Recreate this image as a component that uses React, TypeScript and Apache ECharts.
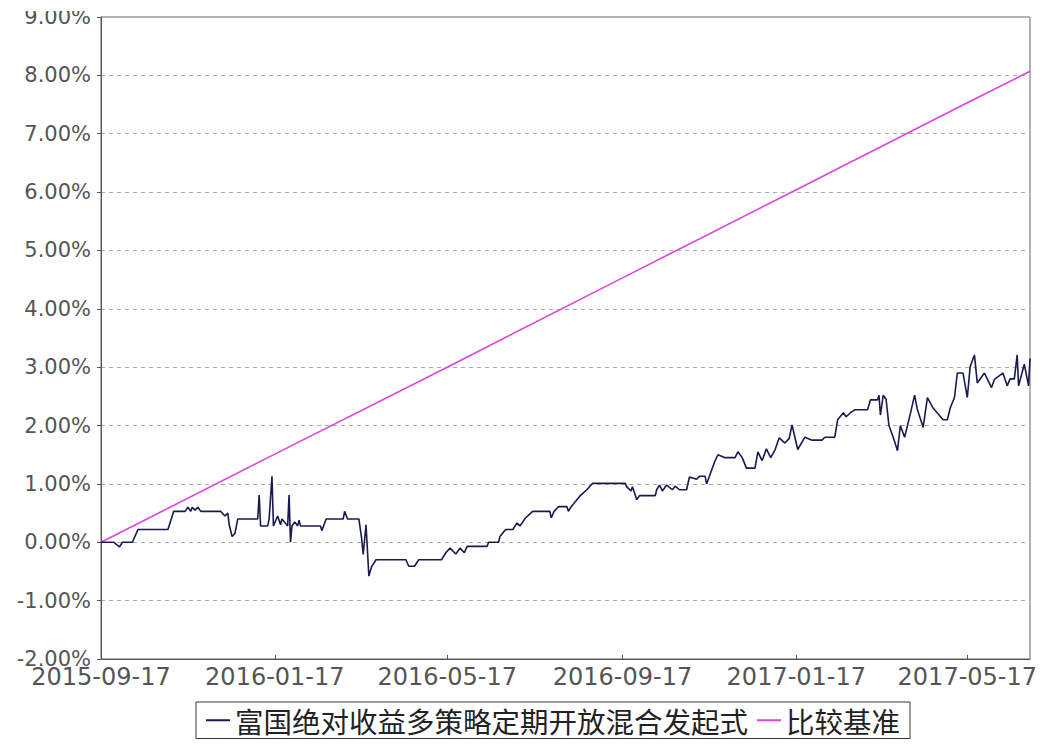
import React, { useEffect, useRef } from "react";
import * as echarts from "echarts";

const fundName = "富国绝对收益多策略定期开放混合发起式";
const benchName = "比较基准";

const xMin = "2015-09-17";
const xMax = "2017-06-30";
const xTickDates = ["2015-09-17", "2016-01-17", "2016-05-17", "2016-09-17", "2017-01-17", "2017-05-17"];

const yMin = -2;
const yMax = 9;
const yInterval = 1;

const fundDates = [
  "2015-09-17", "2015-09-26", "2015-09-30", "2015-10-02", "2015-10-09", "2015-10-13", "2015-11-03", "2015-11-07",
  "2015-11-15", "2015-11-17", "2015-11-19", "2015-11-20", "2015-11-22", "2015-11-24", "2015-11-26", "2015-12-10",
  "2015-12-13", "2015-12-15", "2015-12-16", "2015-12-18", "2015-12-20", "2015-12-22", "2016-01-05", "2016-01-06",
  "2016-01-07", "2016-01-12", "2016-01-13", "2016-01-15", "2016-01-16", "2016-01-19", "2016-01-21", "2016-01-22",
  "2016-01-26", "2016-01-27", "2016-01-28", "2016-01-29", "2016-01-31", "2016-02-02", "2016-02-03", "2016-02-04",
  "2016-02-18", "2016-02-19", "2016-02-22", "2016-03-05", "2016-03-06", "2016-03-08", "2016-03-16", "2016-03-18",
  "2016-03-19", "2016-03-21", "2016-03-23", "2016-03-25", "2016-03-26", "2016-03-28", "2016-04-18", "2016-04-20",
  "2016-04-24", "2016-04-27", "2016-05-13", "2016-05-16", "2016-05-19", "2016-05-23", "2016-05-26", "2016-05-29",
  "2016-05-31", "2016-06-14", "2016-06-15", "2016-06-22", "2016-06-23", "2016-06-27", "2016-07-02", "2016-07-05",
  "2016-07-07", "2016-07-09", "2016-07-11", "2016-07-16", "2016-07-28", "2016-07-29", "2016-07-31", "2016-08-03",
  "2016-08-09", "2016-08-10", "2016-08-12", "2016-08-15", "2016-08-18", "2016-08-23", "2016-08-27", "2016-09-19",
  "2016-09-20", "2016-09-23", "2016-09-24", "2016-09-27", "2016-09-29", "2016-10-10", "2016-10-11", "2016-10-13",
  "2016-10-15", "2016-10-18", "2016-10-22", "2016-10-24", "2016-10-27", "2016-11-01", "2016-11-03", "2016-11-08",
  "2016-11-10", "2016-11-14", "2016-11-15", "2016-11-17", "2016-11-21", "2016-11-23", "2016-11-28", "2016-12-05",
  "2016-12-07", "2016-12-10", "2016-12-13", "2016-12-19", "2016-12-21", "2016-12-24", "2016-12-27", "2016-12-30",
  "2017-01-02", "2017-01-05", "2017-01-09", "2017-01-12", "2017-01-14", "2017-01-18", "2017-01-23", "2017-01-28",
  "2017-02-04", "2017-02-06", "2017-02-13", "2017-02-15", "2017-02-19", "2017-02-21", "2017-02-24", "2017-02-27",
  "2017-03-08", "2017-03-10", "2017-03-15", "2017-03-16", "2017-03-17", "2017-03-19", "2017-03-21", "2017-03-23",
  "2017-03-26", "2017-03-29", "2017-03-31", "2017-04-03", "2017-04-07", "2017-04-10", "2017-04-12", "2017-04-16",
  "2017-04-19", "2017-04-23", "2017-04-30", "2017-05-03", "2017-05-05", "2017-05-08", "2017-05-10", "2017-05-14",
  "2017-05-17", "2017-05-19", "2017-05-22", "2017-05-24", "2017-05-29", "2017-06-03", "2017-06-05", "2017-06-11",
  "2017-06-14", "2017-06-16", "2017-06-19", "2017-06-21", "2017-06-22", "2017-06-26", "2017-06-29", "2017-06-30",
];

const fundValues = [
  0.0, 0.0, -0.08, 0.0, 0.0, 0.22, 0.22, 0.53,
  0.53, 0.6, 0.53, 0.6, 0.55, 0.6, 0.53, 0.53,
  0.45, 0.5, 0.3, 0.1, 0.15, 0.4, 0.4, 0.81,
  0.28, 0.28, 0.4, 1.13, 0.28, 0.45, 0.3, 0.4,
  0.28, 0.81, 0.0, 0.28, 0.35, 0.28, 0.38, 0.28,
  0.28, 0.2, 0.4, 0.4, 0.53, 0.4, 0.4, 0.05,
  -0.21, 0.3, -0.58, -0.41, -0.38, -0.3, -0.3, -0.41,
  -0.41, -0.3, -0.3, -0.18, -0.1, -0.2, -0.1, -0.18,
  -0.07, -0.07, 0.0, 0.0, 0.1, 0.22, 0.22, 0.33,
  0.28, 0.35, 0.42, 0.53, 0.53, 0.42, 0.53, 0.61,
  0.61, 0.53, 0.61, 0.7, 0.79, 0.9, 1.01, 1.01,
  0.95, 0.88, 0.95, 0.73, 0.8, 0.8, 0.9, 0.98,
  0.88, 0.98, 0.9, 0.96, 0.9, 0.9, 1.12, 1.08,
  1.13, 1.13, 1.0, 1.13, 1.4, 1.5, 1.45, 1.45,
  1.55, 1.45, 1.27, 1.27, 1.55, 1.4, 1.6, 1.45,
  1.58, 1.79, 1.7, 1.78, 2.01, 1.59, 1.8, 1.75,
  1.75, 1.8, 1.8, 2.1, 2.22, 2.15, 2.22, 2.27,
  2.27, 2.44, 2.44, 2.52, 2.18, 2.52, 2.45, 2.0,
  1.8, 1.57, 2.0, 1.8, 2.2, 2.52, 2.27, 1.97,
  2.48, 2.3, 2.1, 2.1, 2.3, 2.48, 2.9, 2.9,
  2.48, 3.01, 3.21, 2.73, 2.9, 2.65, 2.79, 2.9,
  2.68, 2.8, 2.8, 3.21, 2.68, 3.05, 2.68, 3.15,
];

const benchDates = ["2015-09-17", "2016-01-17", "2016-05-17", "2016-09-17", "2017-01-17", "2017-05-17", "2017-06-30"];
const benchValues = [0.0, 1.51, 3.0, 4.53, 6.04, 7.53, 8.07];

function toTs(s: string): number {
  const [y, m, d] = s.split("-").map(Number);
  return new Date(y, m - 1, d).getTime();
}

function fmtDate(v: number): string {
  const d = new Date(v);
  const p = (n: number) => (n < 10 ? "0" + n : "" + n);
  return d.getFullYear() + "-" + p(d.getMonth() + 1) + "-" + p(d.getDate());
}

export default function App() {
  const ref = useRef<HTMLDivElement>(null);

  useEffect(() => {
    if (!ref.current) return;
    const chart = echarts.init(ref.current, undefined, { renderer: "svg" });
    const tickTs = xTickDates.map(toTs);
    const latin = "DejaVu Sans";
    chart.setOption({
      animation: false,
      backgroundColor: "#ffffff",
      grid: {
        left: 101,
        right: 13,
        top: 17,
        bottom: 85,
        show: true,
        borderColor: "#666666",
        borderWidth: 1,
        containLabel: false,
      },
      xAxis: {
        type: "value",
        min: toTs(xMin),
        max: toTs(xMax),
        scale: true,
        axisLine: { show: true, onZero: false, lineStyle: { color: "#555555", width: 1 } },
        axisTick: { show: true, inside: true, length: 4, customValues: tickTs, lineStyle: { color: "#555555" } },
        splitLine: { show: false },
        axisLabel: {
          customValues: tickTs,
          formatter: (v: number) => fmtDate(v),
          fontFamily: latin,
          fontSize: 24,
          lineHeight: 20,
          color: "#555555",
          margin: 8,
        },
      },
      yAxis: {
        type: "value",
        min: yMin,
        max: yMax,
        interval: yInterval,
        axisLine: { show: true, lineStyle: { color: "#555555", width: 1 } },
        axisTick: { show: true, inside: false, length: 4, lineStyle: { color: "#555555" } },
        splitLine: { show: true, lineStyle: { color: "#aaaaaa", type: [4, 4], width: 1 } },
        axisLabel: {
          formatter: (v: number) => v.toFixed(2) + "%",
          fontFamily: latin,
          fontSize: 21,
          lineHeight: 16,
          color: "#555555",
          margin: 10,
        },
      },
      legend: {
        top: 702,
        left: 196,
        icon: "rect",
        itemWidth: 24,
        itemHeight: 2,
        itemGap: 9,
        borderColor: "#333333",
        borderWidth: 1,
        padding: [4, 10, 4, 10],
        textStyle: { fontSize: 28.5, lineHeight: 28, color: "#222222", fontFamily: "Noto Sans CJK SC" },
        data: [fundName, benchName],
      },
      graphic: [
        {
          type: "rect",
          left: 0,
          top: 0,
          shape: { x: 0, y: 0, width: 96, height: 11 },
          style: { fill: "#ffffff" },
          z: 100,
          silent: true,
        },
      ],
      series: [
        {
          name: benchName,
          type: "line",
          showSymbol: false,
          symbol: "none",
          lineStyle: { color: "#dd44dd", width: 1.6 },
          itemStyle: { color: "#dd44dd" },
          data: benchDates.map((d, i) => [toTs(d), benchValues[i]]),
          z: 2,
        },
        {
          name: fundName,
          type: "line",
          showSymbol: false,
          symbol: "none",
          lineStyle: { color: "#1a1a4e", width: 1.6 },
          itemStyle: { color: "#1a1a4e" },
          data: fundDates.map((d, i) => [toTs(d), fundValues[i]]),
          z: 3,
        },
      ],
    });
    return () => chart.dispose();
  }, []);

  return (
    <div
      ref={ref}
      style={{ position: "fixed", left: 0, top: 0, width: 1043, height: 744, background: "#fff" }}
    />
  );
}
